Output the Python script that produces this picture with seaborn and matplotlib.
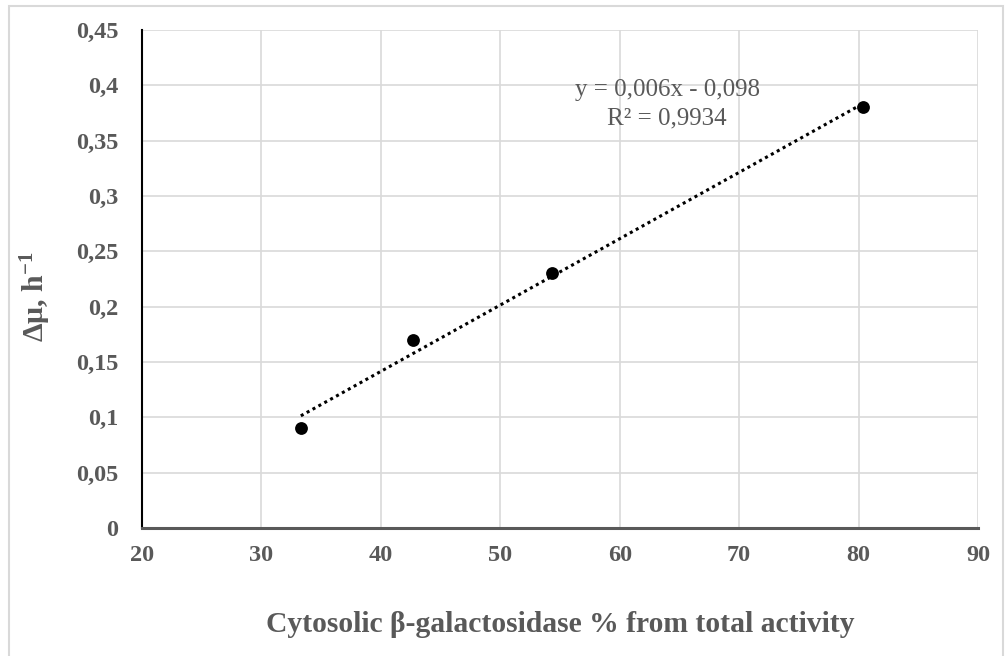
import numpy as np
import pandas as pd
import matplotlib
matplotlib.use("Agg")
import matplotlib.pyplot as plt
from matplotlib.patches import Rectangle
import seaborn as sns

# Data
cytosolic_pct = [33.3, 42.7, 54.3, 80.4]
delta_mu = [0.09, 0.17, 0.23, 0.38]
x_ticks = [20, 30, 40, 50, 60, 70, 80, 90]
y_ticks = [0, 0.05, 0.1, 0.15, 0.2, 0.25, 0.3, 0.35, 0.4, 0.45]
y_tick_labels = ["0", "0,05", "0,1", "0,15", "0,2", "0,25", "0,3", "0,35", "0,4", "0,45"]
equation_text = "y = 0,006x - 0,098"
r2_text = "R² = 0,9934"
x_label = "Cytosolic β-galactosidase % from total activity"
y_label = "Δμ, h$^{-1}$"

sns.set_style("white")
plt.rcParams["font.family"] = ["Liberation Serif", "DejaVu Serif"]
plt.rcParams["mathtext.fontset"] = "custom"
plt.rcParams["mathtext.rm"] = "Liberation Serif:bold"
plt.rcParams["mathtext.bf"] = "Liberation Serif:bold"
plt.rcParams["mathtext.default"] = "bf"

df = pd.DataFrame({"x": cytosolic_pct, "y": delta_mu})

fig = plt.figure(figsize=(10.06, 6.56), dpi=100)
ax = fig.add_axes([142 / 1006, 1 - 528 / 656, (978 - 142) / 1006, (528 - 30) / 656])

gray = "#595959"

sns.regplot(data=df, x="x", y="y", ax=ax, ci=None, scatter=False, truncate=True,
            line_kws=dict(color="black", linestyle=(0, (1, 1.2)), linewidth=2.2))
sns.scatterplot(data=df, x="x", y="y", ax=ax, color="black", s=85, edgecolor="black",
                linewidth=0, zorder=5)

ax.set_xlim(20, 90)
ax.set_ylim(0, 0.45)
ax.set_xticks(x_ticks)
ax.set_xticklabels([str(t) for t in x_ticks])
ax.set_yticks(y_ticks)
ax.set_yticklabels(y_tick_labels)
ax.grid(True, color="#d9d9d9", linewidth=1.2)
ax.set_axisbelow(True)
for s in ["top", "right"]:
    ax.spines[s].set_visible(False)
ax.spines["left"].set_color("black")
ax.spines["left"].set_linewidth(1.5)
ax.spines["bottom"].set_color(gray)
ax.spines["bottom"].set_linewidth(2.2)
ax.tick_params(axis="both", length=0, labelsize=17.5, labelcolor=gray)
for lab in ax.get_xticklabels() + ax.get_yticklabels():
    lab.set_fontweight("bold")
ax.tick_params(axis="y", pad=17)
ax.tick_params(axis="x", pad=12)

ax.set_xlabel(x_label, fontsize=21.3, fontweight="bold", color=gray, labelpad=33)
ax.set_ylabel(y_label, fontsize=21.5, fontweight="bold", color=gray)
ax.yaxis.set_label_coords(-0.106, 0.464)

ax.text(0.628, 0.8795, equation_text, transform=ax.transAxes, ha="center", va="center",
        fontsize=18, color=gray)
ax.text(0.628, 0.823, r2_text, transform=ax.transAxes, ha="center", va="center",
        fontsize=18, color=gray)

# outer frame
fig.patches.append(Rectangle((9 / 1006, -0.05), (1003 - 9) / 1006, 1.05 - 6 / 656,
                             transform=fig.transFigure, fill=False, edgecolor="#d9d9d9",
                             linewidth=1.5))

fig.savefig("out.png", dpi=100)
